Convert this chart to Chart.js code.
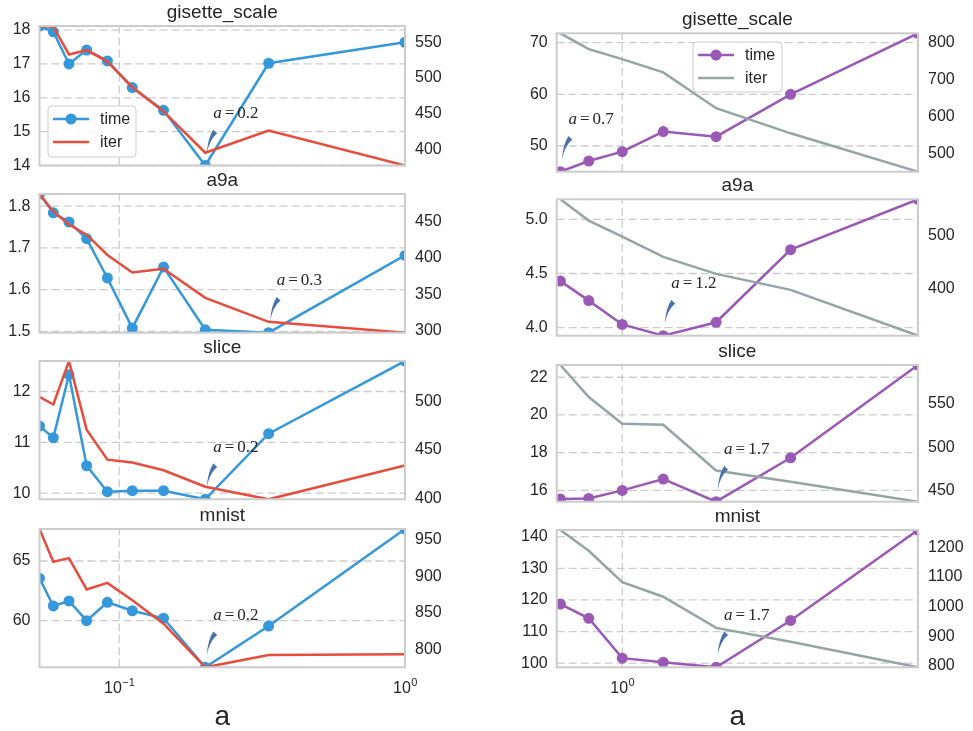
<!DOCTYPE html>
<html><head><meta charset="utf-8">
<script src="https://cdn.jsdelivr.net/npm/chart.js@4.4.0/dist/chart.umd.min.js"></script>
<style>
html,body{margin:0;padding:0;background:#fff;}
#wrap{position:relative;width:973px;height:731px;overflow:hidden;background:#fff;}
canvas{position:absolute;left:0;top:0;}
</style></head><body><div id="wrap"></div>
<script>
// ---------- data ----------
const aLeft  = [0.0526, 0.0588, 0.0667, 0.0769, 0.0909, 0.1111, 0.1429, 0.2, 0.3333, 1.0];
const aRight = [0.7143, 0.8333, 1.0, 1.25, 1.6667, 2.5, 5.0];
const datasetNames = ['gisette_scale', 'a9a', 'slice', 'mnist'];
const seriesLabels = ['time', 'iter'];
const xAxisTitle = 'a';

const timeLeftGisette = [18.12, 17.95, 17.0, 17.41, 17.09, 16.30, 15.63, 14.0, 17.02, 17.64];
const iterLeftGisette = [573, 572, 533, 539, 523, 487, 453, 395, 426, 377];
const timeLeftA9a     = [1.829, 1.784, 1.762, 1.722, 1.628, 1.508, 1.654, 1.504, 1.497, 1.682];
const iterLeftA9a     = [488, 464, 446, 432, 404, 380, 385, 345, 312, 297];
const timeLeftSlice   = [11.32, 11.09, 12.33, 10.54, 10.03, 10.05, 10.05, 9.88, 11.17, 12.60];
const iterLeftSlice   = [505, 497, 542, 471, 440, 437, 429, 412, 399, 434];
const timeLeftMnist   = [63.55, 61.23, 61.65, 60.0, 61.54, 60.83, 60.2, 56.09, 59.55, 67.68];
const iterLeftMnist   = [965, 920, 925, 882, 891, 867, 835, 775, 792, 793];

const timeRightGisette = [45.03, 47.1, 48.9, 52.8, 51.8, 60.0, 71.8];
const iterRightGisette = [825, 782, 755, 719, 622, 554, 450];
const timeRightA9a     = [4.43, 4.25, 4.03, 3.926, 4.05, 4.72, 5.185];
const iterRightA9a     = [568, 528, 498, 460, 428, 398, 312];
const timeRightSlice   = [15.54, 15.57, 16.0, 16.6, 15.4, 17.73, 22.65];
const iterRightSlice   = [595, 558, 527, 526, 473, 460, 437];
const timeRightMnist   = [118.7, 114.2, 101.6, 100.3, 98.7, 113.5, 142.1];
const iterRightMnist   = [1258, 1188, 1082, 1033, 928, 881, 795];

// tick values
const xTicksLeft  = [0.1, 1];
const xTicksRight = [1];
const ticksTimeLeftGisette = [14, 15, 16, 17, 18];
const ticksIterLeftGisette = [400, 450, 500, 550];
const ticksTimeLeftA9a     = [1.5, 1.6, 1.7, 1.8];
const ticksIterLeftA9a     = [300, 350, 400, 450];
const ticksTimeLeftSlice   = [10, 11, 12];
const ticksIterLeftSlice   = [400, 450, 500];
const ticksTimeLeftMnist   = [60, 65];
const ticksIterLeftMnist   = [800, 850, 900, 950];
const ticksTimeRightGisette = [50, 60, 70];
const ticksIterRightGisette = [500, 600, 700, 800];
const ticksTimeRightA9a     = [4.0, 4.5, 5.0];
const ticksIterRightA9a     = [400, 500];
const ticksTimeRightSlice   = [16, 18, 20, 22];
const ticksIterRightSlice   = [450, 500, 550];
const ticksTimeRightMnist   = [100, 110, 120, 130, 140];
const ticksIterRightMnist   = [800, 900, 1000, 1100, 1200];

// annotation labels (value of a at minimum time)
const annotLeft  = ['0.2', '0.3', '0.2', '0.2'];
const annotRight = ['0.7', '1.2', '1.7', '1.7'];

// ---------- layout & style ----------
const W = 973, H = 731;
const SANS = '"Liberation Sans", Arial, sans-serif';
const SERIF = '"Liberation Serif", "Times New Roman", serif';
const TXT = '#262626';
const GRID = '#cccccc';
const colsX = [{left: 39.5, right: 405}, {left: 556.7, right: 918}];
const rowsY = [
  [[26, 165.5], [194, 332.7], [361, 499.3], [529, 667.3]],
  [[33.3, 171.7], [199.3, 335.7], [365, 501.7], [530, 667.3]]
];
const colColors = [['#3498db', '#e74c3c'], ['#9b59b6', '#95a5a6']];
const legendBoxes = [{x: 48, y: 106, w: 88, h: 51}, {x: 693, y: 42, w: 89, h: 50}];

const panels = [
  {col:0,row:0,a:aLeft,time:timeLeftGisette,iter:iterLeftGisette,tT:ticksTimeLeftGisette,tI:ticksIterLeftGisette,dec:0,ann:annotLeft[0]},
  {col:0,row:1,a:aLeft,time:timeLeftA9a,iter:iterLeftA9a,tT:ticksTimeLeftA9a,tI:ticksIterLeftA9a,dec:1,ann:annotLeft[1]},
  {col:0,row:2,a:aLeft,time:timeLeftSlice,iter:iterLeftSlice,tT:ticksTimeLeftSlice,tI:ticksIterLeftSlice,dec:0,ann:annotLeft[2]},
  {col:0,row:3,a:aLeft,time:timeLeftMnist,iter:iterLeftMnist,tT:ticksTimeLeftMnist,tI:ticksIterLeftMnist,dec:0,ann:annotLeft[3]},
  {col:1,row:0,a:aRight,time:timeRightGisette,iter:iterRightGisette,tT:ticksTimeRightGisette,tI:ticksIterRightGisette,dec:0,ann:annotRight[0]},
  {col:1,row:1,a:aRight,time:timeRightA9a,iter:iterRightA9a,tT:ticksTimeRightA9a,tI:ticksIterRightA9a,dec:1,ann:annotRight[1]},
  {col:1,row:2,a:aRight,time:timeRightSlice,iter:iterRightSlice,tT:ticksTimeRightSlice,tI:ticksIterRightSlice,dec:0,ann:annotRight[2]},
  {col:1,row:3,a:aRight,time:timeRightMnist,iter:iterRightMnist,tT:ticksTimeRightMnist,tI:ticksIterRightMnist,dec:0,ann:annotRight[3]}
];

function roundRect(ctx, x, y, w, h, r) {
  ctx.beginPath();
  ctx.moveTo(x + r, y);
  ctx.lineTo(x + w - r, y); ctx.arcTo(x + w, y, x + w, y + r, r);
  ctx.lineTo(x + w, y + h - r); ctx.arcTo(x + w, y + h, x + w - r, y + h, r);
  ctx.lineTo(x + r, y + h); ctx.arcTo(x, y + h, x, y + h - r, r);
  ctx.lineTo(x, y + r); ctx.arcTo(x, y, x + r, y, r);
  ctx.closePath();
}

function panelPlugin(p) {
  return {
    id: 'panel' + p.col + p.row,
    beforeDatasetsDraw(chart) {
      const ctx = chart.ctx, ca = chart.chartArea;
      const xs = chart.scales.x, ys = chart.scales.y;
      ctx.save();
      ctx.strokeStyle = GRID; ctx.lineWidth = 1.3; ctx.setLineDash([8, 4]);
      ys.ticks.forEach(t => {
        const yy = ys.getPixelForValue(t.value);
        ctx.beginPath(); ctx.moveTo(ca.left, yy); ctx.lineTo(ca.right, yy); ctx.stroke();
      });
      xs.ticks.forEach(t => {
        const xx = xs.getPixelForValue(t.value);
        ctx.beginPath(); ctx.moveTo(xx, ca.bottom); ctx.lineTo(xx, ca.top); ctx.stroke();
      });
      ctx.restore();
    },
    afterDatasetsDraw(chart) {
      const ctx = chart.ctx, ca = chart.chartArea;
      const xs = chart.scales.x, ys = chart.scales.y;
      // frame
      ctx.save();
      ctx.strokeStyle = GRID; ctx.lineWidth = 2;
      ctx.strokeRect(ca.left, ca.top, ca.right - ca.left, ca.bottom - ca.top);
      ctx.restore();
      // annotation at minimum time
      let k = 0;
      p.time.forEach((v, i) => { if (v < p.time[k]) k = i; });
      const px = xs.getPixelForValue(p.a[k]), py = ys.getPixelForValue(p.time[k]);
      const tail = {x: px + 10, y: py - 34}, tip = {x: px + 1.5, y: py - 12}, ctrl = {x: px + 3.5, y: py - 27};
      let dx = ctrl.x - tail.x, dy = ctrl.y - tail.y; const dl = Math.hypot(dx, dy); dx /= dl; dy /= dl;
      const nx = -dy, ny = dx;
      ctx.save();
      ctx.fillStyle = '#4a70b0';
      ctx.beginPath();
      ctx.moveTo(tail.x + nx * 2.6, tail.y + ny * 2.6);
      ctx.quadraticCurveTo(ctrl.x + nx * 1.2, ctrl.y + ny * 1.2, tip.x, tip.y);
      ctx.quadraticCurveTo(ctrl.x - nx * 1.2, ctrl.y - ny * 1.2, tail.x - nx * 2.6, tail.y - ny * 2.6);
      ctx.closePath(); ctx.fill();
      ctx.fillStyle = TXT; ctx.textBaseline = 'alphabetic'; ctx.textAlign = 'left';
      let tx = px + 8; const ty = py - 47.5;
      ctx.font = 'italic 17px ' + SERIF; ctx.fillText('a', tx, ty); tx += ctx.measureText('a').width + 3;
      ctx.font = '17px ' + SERIF; ctx.fillText('=', tx, ty); tx += ctx.measureText('=').width + 3;
      ctx.fillText(p.ann, tx, ty);
      ctx.restore();
    },
    afterDraw(chart) {
      const ctx = chart.ctx, ca = chart.chartArea;
      const cx = (ca.left + ca.right) / 2;
      ctx.save();
      ctx.fillStyle = TXT; ctx.textAlign = 'center'; ctx.textBaseline = 'alphabetic';
      ctx.font = '19px ' + SANS;
      ctx.fillText(datasetNames[p.row], cx, ca.top - 8);
      // legend
      if (p.row === 0) {
        const b = legendBoxes[p.col];
        roundRect(ctx, b.x, b.y, b.w, b.h, 4);
        ctx.fillStyle = 'rgba(255,255,255,0.85)'; ctx.fill();
        ctx.strokeStyle = GRID; ctx.lineWidth = 1; ctx.stroke();
        chart.data.datasets.forEach((ds, i) => {
          const yy = b.y + 13 + i * 23;
          ctx.strokeStyle = ds.borderColor; ctx.lineWidth = 2.5;
          ctx.beginPath(); ctx.moveTo(b.x + 5, yy); ctx.lineTo(b.x + 41, yy); ctx.stroke();
          if (i === 0) { ctx.fillStyle = ds.borderColor; ctx.beginPath(); ctx.arc(b.x + 23, yy, 5.5, 0, Math.PI * 2); ctx.fill(); }
          ctx.fillStyle = TXT; ctx.textAlign = 'left'; ctx.textBaseline = 'middle';
          ctx.font = '16px ' + SANS; ctx.fillText(ds.label, b.x + 52, yy + 1);
        });
      }
      // x tick labels and axis title on bottom row
      if (p.row === 3) {
        const xs = chart.scales.x;
        ctx.fillStyle = TXT; ctx.textAlign = 'left'; ctx.textBaseline = 'alphabetic';
        xs.ticks.forEach(t => {
          const xx = xs.getPixelForValue(t.value);
          const e = Math.round(Math.log10(t.value));
          const sup = e < 0 ? '\u2212' + (-e) : String(e);
          ctx.font = '16px ' + SANS; const wb = ctx.measureText('10').width;
          ctx.font = '11px ' + SANS; const ws = ctx.measureText(sup).width;
          const x0 = xx - (wb + ws) / 2;
          ctx.font = '16px ' + SANS; ctx.fillText('10', x0, 693);
          ctx.font = '11px ' + SANS; ctx.fillText(sup, x0 + wb + 0.5, 685.5);
        });
        ctx.textAlign = 'center'; ctx.font = '28px ' + SANS;
        ctx.fillText(xAxisTitle, cx, 725);
      }
      ctx.restore();
    }
  };
}

const wrap = document.getElementById('wrap');
panels.forEach(p => {
  const cv = document.createElement('canvas');
  cv.width = W; cv.height = H;
  cv.style.width = W + 'px'; cv.style.height = H + 'px';
  wrap.appendChild(cv);
  const L = colsX[p.col].left, R = colsX[p.col].right;
  const T = rowsY[p.col][p.row][0], B = rowsY[p.col][p.row][1];
  const AWL = Math.min(55, L - 0.5), AWR = 60;
  const c1 = colColors[p.col][0], c2 = colColors[p.col][1];
  const xt = p.col === 0 ? xTicksLeft : xTicksRight;
  const fmt = v => Number(v).toFixed(p.dec);
  const tickFont = {family: SANS, size: 16};
  new Chart(cv, {
    type: 'line',
    data: {datasets: [
      {label: seriesLabels[0], data: p.a.map((a, i) => ({x: a, y: p.time[i]})), yAxisID: 'y',
       borderColor: c1, backgroundColor: c1, pointBackgroundColor: c1, pointBorderColor: c1,
       borderWidth: 2.5, pointRadius: 5.5, pointHoverRadius: 5.5, pointBorderWidth: 0, tension: 0, order: 1, clip: 0},
      {label: seriesLabels[1], data: p.a.map((a, i) => ({x: a, y: p.iter[i]})), yAxisID: 'y2',
       borderColor: c2, backgroundColor: c2, borderWidth: 2.5, pointRadius: 0, pointHoverRadius: 0, tension: 0, order: 0, clip: 0}
    ]},
    options: {
      responsive: false, maintainAspectRatio: false, animation: false, events: [],
      layout: {padding: {left: L - AWL, right: W - R - AWR, top: T, bottom: H - B}},
      plugins: {legend: {display: false}, tooltip: {enabled: false}, title: {display: false}},
      scales: {
        x: {type: 'logarithmic', min: Math.min(...p.a), max: Math.max(...p.a),
            afterBuildTicks: ax => { ax.ticks = xt.map(v => ({value: v})); },
            ticks: {display: false}, grid: {display: false, drawTicks: false}, border: {display: false},
            afterFit: ax => { ax.height = 0; }},
        y: {type: 'linear', position: 'left', min: Math.min(...p.time), max: Math.max(...p.time),
            afterBuildTicks: ax => { ax.ticks = p.tT.map(v => ({value: v})); },
            ticks: {font: tickFont, color: TXT, padding: 9, callback: fmt},
            grid: {display: false, drawTicks: false}, border: {display: false},
            afterFit: ax => { ax.width = AWL; }},
        y2: {type: 'linear', position: 'right', min: Math.min(...p.iter), max: Math.max(...p.iter),
            afterBuildTicks: ax => { ax.ticks = p.tI.map(v => ({value: v})); },
            ticks: {font: tickFont, color: TXT, padding: 10, callback: v => Number(v).toFixed(0)},
            grid: {display: false, drawTicks: false}, border: {display: false},
            afterFit: ax => { ax.width = AWR; }}
      }
    },
    plugins: [panelPlugin(p)]
  });
});
</script>
</body></html>
